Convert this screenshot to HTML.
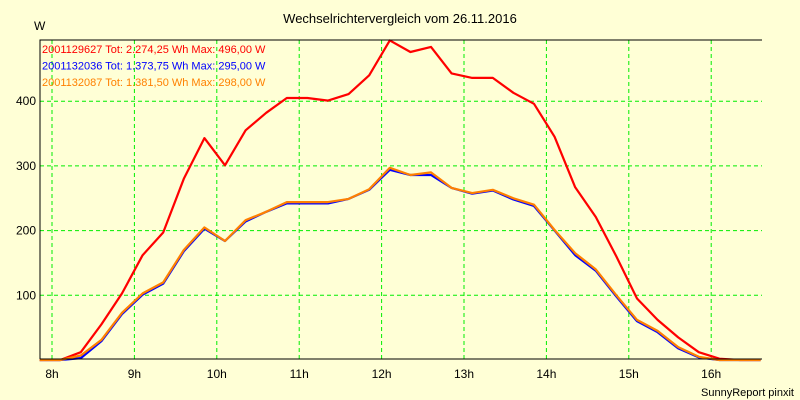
<!DOCTYPE html>
<html><head><meta charset="utf-8"><style>
html,body{margin:0;padding:0;background:#ffffd6;}
svg{display:block;font-family:"Liberation Sans",sans-serif;font-size:12px;}
</style></head><body>
<svg id="chart" width="800" height="400" viewBox="0 0 800 400" xmlns="http://www.w3.org/2000/svg">
<rect width="800" height="400" fill="#ffffd6"/>
<text x="400" y="23" text-anchor="middle" font-size="13">Wechselrichtervergleich vom 26.11.2016</text>
<text x="34" y="30">W</text>
<text x="794" y="396" text-anchor="end" font-size="11">SunnyReport pinxit</text>
<g id="grid"></g>
<g id="series"></g>
<g id="axes"></g>
<g id="legend"></g>
</svg>
<script>
const xTickHours = [8,9,10,11,12,13,14,15,16];
const yTicks = [100,200,300,400];
const startHour = 7.85, stepHour = 0.25;
const redValues = [0,0,12,55,103,162,197,280,343,301,355,382,405,405,401,411,440,494,476,484,443,436,436,413,396,345,267,221,160,95,62,35,12,2,0,0];
const blueValues = [0,0,3,29,71,101,118,168,203,184,214,229,242,242,242,249,263,294,286,286,266,257,262,248,238,200,162,138,98,60,43,18,4,0,0,0];
const orangeValues = [0,0,7,31,73,103,120,170,205,184,216,229,244,244,244,249,264,297,286,290,266,258,263,250,240,201,165,140,100,62,45,20,5,0,0,0];
const legendEntries = [
 ["2001129627 Tot: 2.274,25 Wh Max: 496,00 W","#ff0000"],
 ["2001132036 Tot: 1.373,75 Wh Max: 295,00 W","#0000ff"],
 ["2001132087 Tot: 1.381,50 Wh Max: 298,00 W","#ff8000"]
];
const NS="http://www.w3.org/2000/svg";
const L=40,R=762,T=40,B=359;
const xScale=h=>52+(h-8)*82.4;
const yScale=v=>360-v*0.647;
function mk(tag,attrs,parent){const e=document.createElementNS(NS,tag);for(const k in attrs)e.setAttribute(k,attrs[k]);parent.appendChild(e);return e;}
const grid=document.getElementById('grid'),axes=document.getElementById('axes'),series=document.getElementById('series'),legend=document.getElementById('legend');
xTickHours.forEach(h=>{
 const x=xScale(h);
 const gl=mk('line',{x1:x,x2:x,y1:T,y2:B,stroke:'#00ee00','stroke-dasharray':'4,3'},grid);
 
 
 const t=mk('text',{x:x,y:378,'text-anchor':'middle'},axes);
 t.textContent=h+'h';
 
 
});
yTicks.forEach(v=>{
 const y=yScale(v);
 const gl=mk('line',{x1:L,x2:R,y1:y,y2:y,stroke:'#00ee00','stroke-dasharray':'4,3'},grid);
 
 
 const t=mk('text',{x:36,y:y+4,'text-anchor':'end'},axes);
 t.textContent=v;
 
 
});
const frame=mk('path',{d:`M${L},${B}V${T}H${R}`,fill:'none',stroke:'#000'},axes);


const xAxis=mk('line',{x1:L,x2:R,y1:B,y2:B,stroke:'#000'},axes);


function drawLine(vals,color,name){
 const pts=vals.map((v,i)=>xScale(startHour+i*stepHour).toFixed(1)+','+yScale(v).toFixed(1)).join(' ');
 const p=mk('polyline',{points:pts,fill:'none',stroke:color,'stroke-width':2.2,'stroke-linejoin':'round'},series);
 
 
}
drawLine(redValues,'#ff0000','series-2001129627');
drawLine(blueValues,'#0000ff','series-2001132036');
drawLine(orangeValues,'#ff8000','series-2001132087');
legendEntries.forEach((e,i)=>{
 const t=mk('text',{x:42,y:53+i*16.5,fill:e[1],'font-size':11},legend);
 t.textContent=e[0];
 
 
});
</script>
</body></html>
